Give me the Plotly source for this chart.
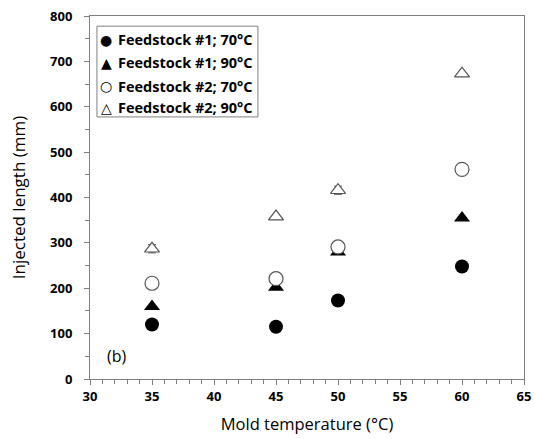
import plotly.graph_objects as go

# mold temperature (°C)
mold_temp = [35, 45, 50, 60]

# injected length (mm)
fs1_70 = [120, 115, 173, 248]
fs1_90 = [160, 202, 280, 355]
fs2_70 = [211, 221, 291, 462]
fs2_90 = [287, 358, 416, 673]

# small error bars visible on some points
fs2_70_err = [0, 8, 8, 0]
fs2_90_err = [9, 0, 9, 0]

names = ["Feedstock #1; 70°C", "Feedstock #1; 90°C",
         "Feedstock #2; 70°C", "Feedstock #2; 90°C"]
glyphs = ["●", "▲", "○", "△"]

fig = go.Figure()

fig.add_trace(go.Scatter(
    x=mold_temp, y=fs1_70, mode="markers", name=names[0],
    marker=dict(symbol="circle", size=14, color="black"),
))
fig.add_trace(go.Scatter(
    x=mold_temp, y=fs1_90, mode="markers", name=names[1],
    marker=dict(symbol="triangle-up", size=14, color="black"),
))
fig.add_trace(go.Scatter(
    x=mold_temp, y=fs2_70, mode="markers", name=names[2],
    marker=dict(symbol="circle", size=14, color="white",
                line=dict(color="#555555", width=1.2)),
    error_y=dict(type="data", array=fs2_70_err, color="#555555",
                 thickness=1, width=4),
))
fig.add_trace(go.Scatter(
    x=mold_temp, y=fs2_90, mode="markers", name=names[3],
    marker=dict(symbol="triangle-up", size=13, color="white",
                line=dict(color="#555555", width=1.2)),
    error_y=dict(type="data", array=fs2_90_err, color="#555555",
                 thickness=1, width=4),
))

# legend drawn by hand (Excel style box, tight spacing)
fig.add_shape(type="rect", xref="paper", yref="paper",
              x0=0.016, x1=0.387, y0=0.722, y1=0.972, layer="above",
              line=dict(color="#808080", width=1))
row_y = [0.934, 0.871, 0.807, 0.747]
for i in range(4):
    fig.add_annotation(xref="paper", yref="paper", x=0.037, y=row_y[i],
                       xanchor="center", yanchor="middle",
                       text=glyphs[i], showarrow=False,
                       font=dict(size=14, family="DejaVu Sans", color="black"))
    fig.add_annotation(xref="paper", yref="paper", x=0.060, y=row_y[i],
                       xanchor="left", yanchor="middle", text=names[i],
                       showarrow=False,
                       font=dict(size=14.5, family="Open Sans", weight="bold",
                                 color="black"))

fig.add_annotation(x=32.2, y=50, text="(b)", showarrow=False,
                   font=dict(size=16, color="black", family="Open Sans"))

fig.update_layout(
    width=535, height=439,
    margin=dict(l=90, r=11, t=16, b=60),
    plot_bgcolor="white", paper_bgcolor="white",
    font=dict(family="Open Sans", color="black"),
    showlegend=False,
    xaxis=dict(
        range=[30, 65], dtick=5, showgrid=False, zeroline=False,
        showline=True, linecolor="#808080", linewidth=1, mirror=True,
        ticks="outside", ticklen=5, tickcolor="#808080",
        minor=dict(dtick=1, ticks="outside", ticklen=4, tickcolor="#808080"),
        tickfont=dict(size=13, weight="bold"), ticklabeloverflow="allow",
        automargin=False,
        title=dict(text="Mold temperature (°C)", font=dict(size=16.5), standoff=14),
    ),
    yaxis=dict(
        range=[0, 800], dtick=100, showgrid=False, zeroline=False,
        showline=True, linecolor="#808080", linewidth=1, mirror=True,
        ticks="outside", ticklen=5, tickcolor="#808080",
        minor=dict(dtick=50, ticks="outside", ticklen=4, tickcolor="#808080"),
        tickfont=dict(size=13, weight="bold"), ticklabelstandoff=9,
        ticklabeloverflow="allow", automargin=False,
        title=dict(text="Injected length (mm)", font=dict(size=17), standoff=20),
    ),
)

# drop the default page margin so the 535x439 figure fits the window
fig.write_html("out.html", config={"displayModeBar": False},
               post_script="document.body.style.margin='0';")
